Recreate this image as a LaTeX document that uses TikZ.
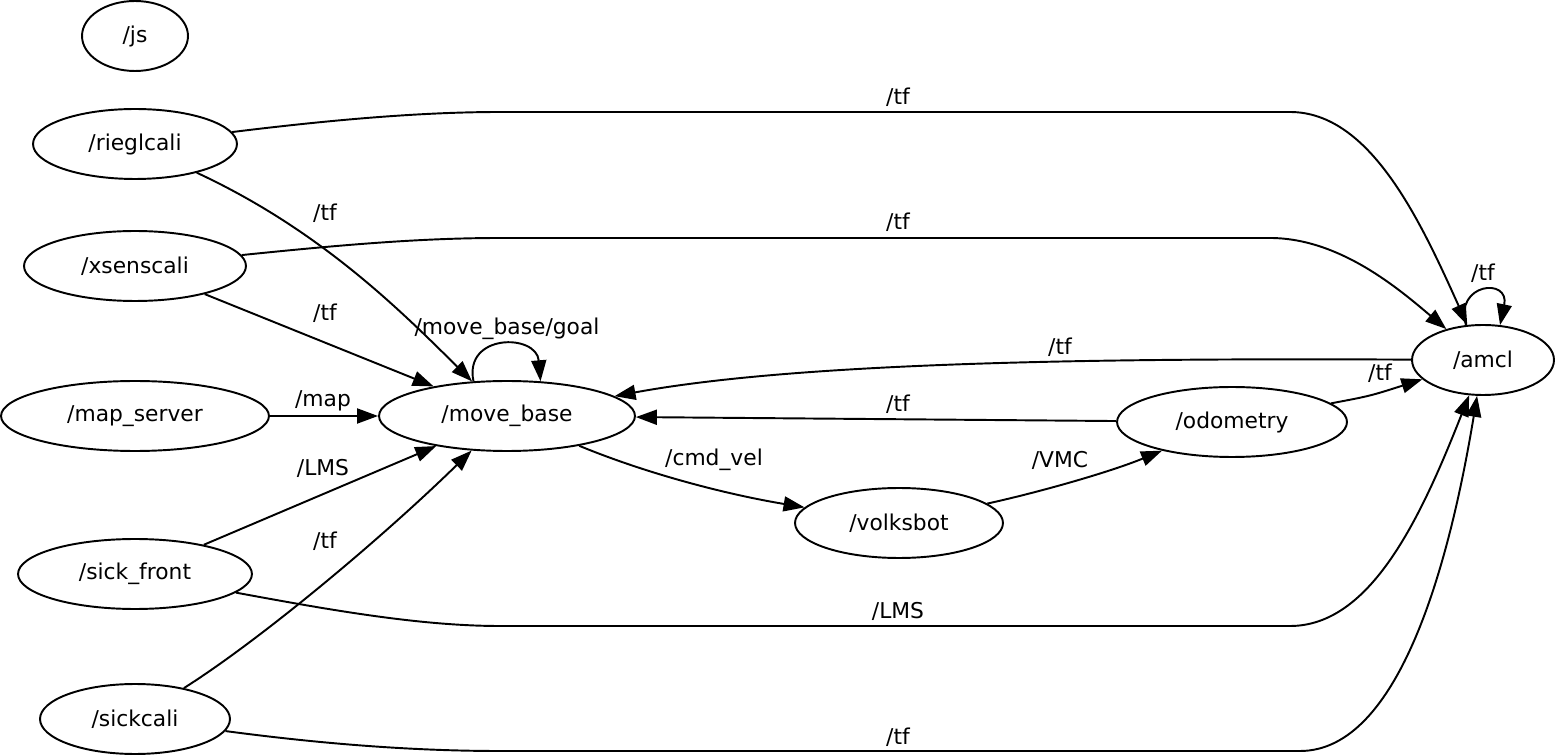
\documentclass[tikz,border=0pt]{standalone}
\usepackage{fontspec}
\setmainfont{DejaVu Sans}
\usetikzlibrary{arrows.meta,shapes.geometric}
\begin{document}
\begin{tikzpicture}[x=0.02cm,y=-0.02cm,
  every node/.style={font=\fontsize{12.4}{14}\selectfont},
  proc/.style={ellipse,draw,line width=1.1pt,inner sep=0pt,minimum height=1.4cm},
  edge/.style={draw,line width=1.1pt,-{Triangle[length=0.42cm,width=0.3cm]}},
  lbl/.style={inner sep=1pt}]
\useasboundingbox (0,0) rectangle (1555,756);
% nodes
\node[proc,minimum width=2.12cm] (js) at (135,36) {/js};
\node[proc,minimum width=4.08cm] (rieg) at (135,144) {/rieglcali};
\node[proc,minimum width=4.44cm] (xsens) at (135,266) {/xsenscali};
\node[proc,minimum width=5.36cm] (map) at (135,416) {/map\_server};
\node[proc,minimum width=4.68cm] (sfront) at (135,574) {/sick\_front};
\node[proc,minimum width=3.8cm] (scali) at (135,719) {/sickcali};
\node[proc,minimum width=5.12cm] (mb) at (507,416) {/move\_base};
\node[proc,minimum width=4.16cm] (vb) at (899,523) {/volksbot};
\node[proc,minimum width=4.6cm] (odo) at (1232,422) {/odometry};
\node[proc,minimum width=2.84cm] (amcl) at (1483,360) {/amcl};
% edges
\path[edge] (rieg) .. controls (330,120) and (420,112) .. (500,112) -- (1290,112) .. controls (1370,112) and (1420,220) .. (amcl);
\path[edge] (rieg) .. controls (320,230) and (400,310) .. (mb);
\path[edge] (xsens) .. controls (340,245) and (420,238) .. (500,238) -- (1270,238) .. controls (1340,238) and (1400,290) .. (amcl);
\path[edge] (xsens) -- (mb);
\path[edge] (map) -- (mb);
\path[edge] (sfront) -- (mb);
\path[edge] (sfront) .. controls (330,610) and (420,626) .. (500,626) -- (1290,626) .. controls (1370,626) and (1420,520) .. (amcl);
\path[edge] (scali) .. controls (260,640) and (380,540) .. (mb);
\path[edge] (scali) .. controls (330,745) and (420,751) .. (500,751) -- (1300,751) .. controls (1400,751) and (1450,560) .. (amcl);
\path[edge] (mb.134) .. controls +(-10,-48) and +(-4,-48) .. (mb.46);
\path[edge] (amcl.116) .. controls +(-12,-42) and +(10,-48) .. (amcl.64);
\path[edge] (amcl) .. controls (1100,358) and (800,362) .. (mb);
\path[edge] (odo) -- (mb);
\path[edge] (odo) .. controls (1370,396) .. (amcl);
\path[edge] (mb) .. controls (650,475) and (730,495) .. (vb);
\path[edge] (vb) .. controls (1040,492) and (1110,472) .. (odo);
% labels
\node[lbl] (t1) at (898,97) {/tf};
\node[lbl] (t2) at (325,213) {/tf};
\node[lbl] (t3) at (898,222) {/tf};
\node[lbl] (t4) at (325,313) {/tf};
\node[lbl] (t5) at (507,329) {/move\_base/goal};
\node[lbl] (t6) at (323,401) {/map};
\node[lbl] (t7) at (1060,347) {/tf};
\node[lbl] (t8) at (1380,373) {/tf};
\node[lbl] (t9) at (898,404) {/tf};
\node[lbl] (t10) at (323,468) {/LMS};
\node[lbl] (t11) at (714,460) {/cmd\_vel};
\node[lbl] (t12) at (1060,460) {/VMC};
\node[lbl] (t13) at (325,541) {/tf};
\node[lbl] (t14) at (898,611) {/LMS};
\node[lbl] (t15) at (898,737) {/tf};
\node[lbl] (t16) at (1483,273) {/tf};
\end{tikzpicture}
\end{document}
